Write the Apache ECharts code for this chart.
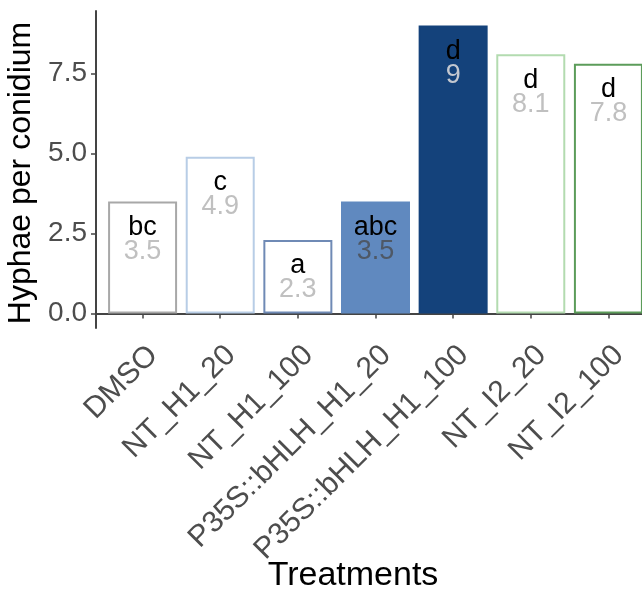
<!DOCTYPE html>
<html>
<head>
<meta charset="utf-8">
<script src="https://cdn.jsdelivr.net/npm/echarts@6/dist/echarts.min.js"></script>
<style>html,body{margin:0;padding:0;background:#fff;}#c{width:642px;height:593px;}</style>
</head>
<body>
<div id="c"></div>
<script>
const categories = ['DMSO', 'NT_H1_20', 'NT_H1_100', 'P35S::bHLH_H1_20', 'P35S::bHLH_H1_100', 'NT_I2_20', 'NT_I2_100'];
const values = [3.5, 4.9, 2.3, 3.5, 9, 8.1, 7.8];
const letters = ['bc', 'c', 'a', 'abc', 'd', 'd', 'd'];
const yTicks = [0, 2.5, 5, 7.5];

const fills = ['#ffffff', '#ffffff', '#ffffff', '#6089bf', '#14427b', '#ffffff', '#ffffff'];
const borders = ['#a8a8a8', '#b8cde6', '#6f8ab5', '#6089bf', '#14427b', '#b3dbb0', '#5c9c5a'];
const valueStyles = ['v', 'v', 'v', 'vd', 'vl', 'v', 'v'];
const FONT = 'Liberation Sans, Arial, sans-serif';

const chart = echarts.init(document.getElementById('c'), null, {renderer: 'canvas'});
chart.setOption({
  animation: false,
  backgroundColor: '#ffffff',
  grid: {left: 96, top: 11, width: 559, height: 317, containLabel: false, outerBoundsMode: 'none'},
  xAxis: {
    type: 'value', min: 0.4, max: 7.6,
    splitLine: {show: false},
    axisLine: {show: true, lineStyle: {color: '#444', width: 2}},
    axisTick: {show: true, customValues: categories.map((c, i) => i + 1), length: 5, lineStyle: {color: '#444', width: 1.5}},
    axisLabel: {
      customValues: categories.map((c, i) => i + 1),
      formatter: v => categories[Math.round(v) - 1] || '',
      rotate: 45, fontSize: 30, color: '#4d4d4d', fontFamily: FONT,
      margin: 12, verticalAlign: 'top', align: 'right'
    }
  },
  yAxis: {
    type: 'value', min: -0.45, max: 9.45,
    splitLine: {show: false},
    axisLine: {show: true, lineStyle: {color: '#444', width: 2}},
    axisTick: {show: true, customValues: yTicks, length: 5, lineStyle: {color: '#444', width: 1.5}},
    axisLabel: {customValues: yTicks, formatter: v => v.toFixed(1), fontSize: 28, color: '#4d4d4d', fontFamily: FONT, margin: 9},
    name: 'Hyphae per conidium', nameLocation: 'middle', nameGap: 50,
    nameTextStyle: {fontSize: 32, color: '#000', fontFamily: FONT, padding: [0, 7, 0, 0]}
  },
  graphic: [{
    type: 'text', style: {text: 'Treatments', x: 353, y: 576, align: 'center', verticalAlign: 'middle', fontSize: 34, fill: '#000', fontFamily: FONT}
  }],
  series: [{
    type: 'bar',
    barWidth: 69,
    data: values.map((v, i) => ({
      value: [i + 1, v],
      itemStyle: {color: fills[i], borderColor: borders[i], borderWidth: 2}
    })),
    label: {
      show: true, position: 'insideTop', distance: 14,
      formatter: p => '{l|' + letters[p.dataIndex] + '}\n{' + valueStyles[p.dataIndex] + '|' + values[p.dataIndex] + '}',
      rich: {
        l: {fontSize: 27, lineHeight: 24, color: '#000', fontFamily: FONT},
        v: {fontSize: 27, lineHeight: 24, color: '#c0c0c0', fontFamily: FONT},
        vd: {fontSize: 27, lineHeight: 24, color: '#4e5866', fontFamily: FONT},
        vl: {fontSize: 27, lineHeight: 24, color: '#c4c8d0', fontFamily: FONT}
      }
    }
  }]
});
</script>
</body>
</html>
